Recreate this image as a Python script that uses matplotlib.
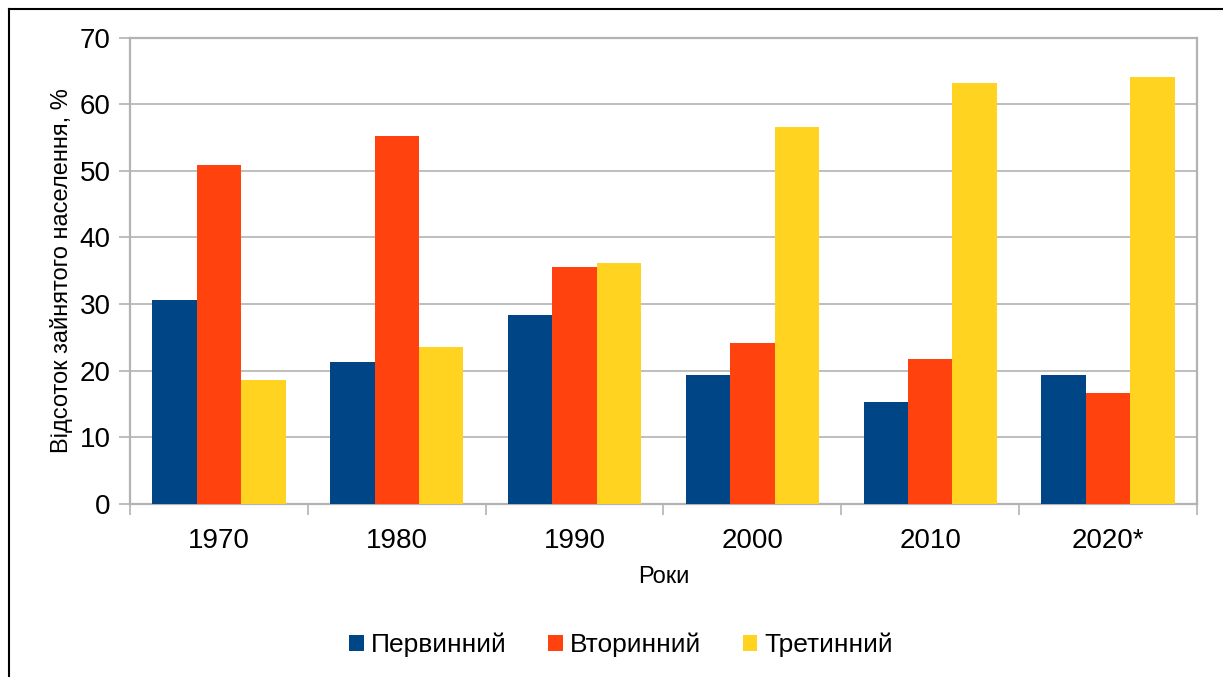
import numpy as np
import matplotlib
matplotlib.use("Agg")
import matplotlib.pyplot as plt
from matplotlib.lines import Line2D

plt.rcParams['font.family'] = ['Liberation Sans', 'DejaVu Sans']

years = ['1970', '1980', '1990', '2000', '2010', '2020*']
primary = [30.6, 21.3, 28.3, 19.3, 15.3, 19.3]
secondary = [50.8, 55.2, 35.5, 24.1, 21.7, 16.6]
tertiary = [18.6, 23.5, 36.1, 56.5, 63.1, 64.0]
series_names = ['Первинний', 'Вторинний', 'Третинний']
colors = ['#004586', '#ff420e', '#ffd320']

fig = plt.figure(figsize=(12.23, 6.77), dpi=100)
ax = fig.add_axes([130 / 1223, 1 - 504 / 677, (1197 - 130) / 1223, (504 - 37.5) / 677])

x = np.arange(len(years))
w = 0.25
for k, vals in enumerate([primary, secondary, tertiary]):
    ax.bar(x + (k - 1) * w, vals, width=w, color=colors[k], label=series_names[k], zorder=3)

grid_c = '#b3b3b3'
ax.set_xlim(-0.5, len(years) - 0.5)
ax.set_ylim(0, 70)
ax.set_yticks(range(0, 71, 10))
ax.yaxis.grid(True, color=grid_c, linewidth=1.2, zorder=0)
ax.set_xticks(x)
ax.set_xticklabels(years)
ax.set_xticks(np.arange(-0.5, len(years), 1), minor=True)
ax.tick_params(axis='x', which='major', length=0, pad=17, labelsize=20)
ax.tick_params(axis='x', which='minor', length=8, color=grid_c, width=1.2)
ax.tick_params(axis='y', length=8, color=grid_c, width=1.2, labelsize=20, pad=6)
for s in ax.spines.values():
    s.set_color(grid_c)
    s.set_linewidth(1.6)

ax.set_xlabel('Роки', fontsize=17, labelpad=9)
ax.set_ylabel('Відсоток зайнятого населення, %', fontsize=17, labelpad=5)

ax.legend(loc='center', bbox_to_anchor=(621 / 1223, 1 - 645 / 677), bbox_transform=fig.transFigure,
          ncol=3, frameon=False, fontsize=19, handlelength=0.55, handleheight=0.55,
          handletextpad=0.25, columnspacing=1.6)

# outer frame (top and left edges visible)
fig.add_artist(Line2D([8.5 / 1223, 1], [1 - 8.5 / 677, 1 - 8.5 / 677], color='black', linewidth=1.5, transform=fig.transFigure))
fig.add_artist(Line2D([8.5 / 1223, 8.5 / 1223], [0, 1 - 8.5 / 677], color='black', linewidth=1.5, transform=fig.transFigure))

fig.savefig('out.png', dpi=100)
